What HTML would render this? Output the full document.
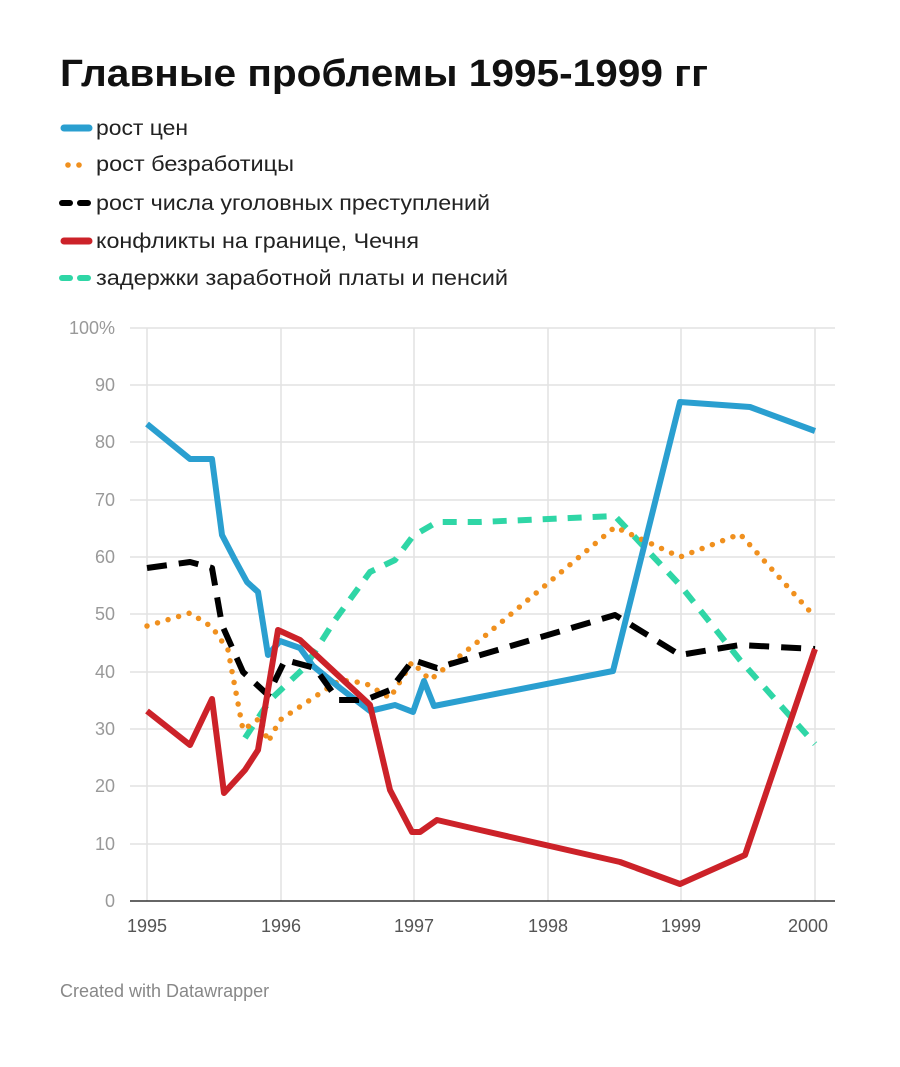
<!DOCTYPE html>
<html><head><meta charset="utf-8"><style>
body{margin:0;background:#fff;font-family:"Liberation Sans",sans-serif;}
</style></head><body>
<svg width="900" height="1067" xmlns="http://www.w3.org/2000/svg" style="display:block">
<text x="60" y="86" font-family="Liberation Sans, sans-serif" font-weight="bold" font-size="38" fill="#111" textLength="648" lengthAdjust="spacingAndGlyphs">Главные проблемы 1995-1999 гг</text>
<g font-family="Liberation Sans, sans-serif" font-size="21" fill="#222">
<line x1="64" y1="128" x2="89" y2="128" stroke="#2a9fd0" stroke-width="7" stroke-linecap="round"/>
<text x="96" y="135" textLength="92" lengthAdjust="spacingAndGlyphs">рост цен</text>
<circle cx="68" cy="165" r="2.8" fill="#f0901e"/><circle cx="79" cy="165" r="2.8" fill="#f0901e"/>
<text x="96" y="171" textLength="198" lengthAdjust="spacingAndGlyphs">рост безработицы</text>
<line x1="62" y1="203" x2="70" y2="203" stroke="#000" stroke-width="6" stroke-linecap="round"/><line x1="80" y1="203" x2="88" y2="203" stroke="#000" stroke-width="6" stroke-linecap="round"/>
<text x="96" y="210" textLength="394" lengthAdjust="spacingAndGlyphs">рост числа уголовных преступлений</text>
<line x1="64" y1="241" x2="89" y2="241" stroke="#cc2229" stroke-width="7" stroke-linecap="round"/>
<text x="96" y="248" textLength="323" lengthAdjust="spacingAndGlyphs">конфликты на границе, Чечня</text>
<line x1="62" y1="278" x2="70" y2="278" stroke="#2fd6a6" stroke-width="6" stroke-linecap="round"/><line x1="80" y1="278" x2="88" y2="278" stroke="#2fd6a6" stroke-width="6" stroke-linecap="round"/>
<text x="96" y="285" textLength="412" lengthAdjust="spacingAndGlyphs">задержки заработной платы и пенсий</text>
</g>
<g stroke="#e2e2e2" stroke-width="1.5">
<line x1="130" x2="835" y1="328" y2="328"/><line x1="130" x2="835" y1="385" y2="385"/><line x1="130" x2="835" y1="442" y2="442"/><line x1="130" x2="835" y1="500" y2="500"/><line x1="130" x2="835" y1="557" y2="557"/><line x1="130" x2="835" y1="614" y2="614"/><line x1="130" x2="835" y1="672" y2="672"/><line x1="130" x2="835" y1="729" y2="729"/><line x1="130" x2="835" y1="786" y2="786"/><line x1="130" x2="835" y1="844" y2="844"/>
<line x1="147" x2="147" y1="328" y2="901"/><line x1="281" x2="281" y1="328" y2="901"/><line x1="414" x2="414" y1="328" y2="901"/><line x1="548" x2="548" y1="328" y2="901"/><line x1="681" x2="681" y1="328" y2="901"/><line x1="815" x2="815" y1="328" y2="901"/>
</g>
<line x1="130" x2="835" y1="901" y2="901" stroke="#333" stroke-width="1.5"/>
<g font-family="Liberation Sans, sans-serif" font-size="18" fill="#999" text-anchor="end">
<text x="115" y="334">100%</text><text x="115" y="391">90</text><text x="115" y="448">80</text><text x="115" y="506">70</text><text x="115" y="563">60</text><text x="115" y="620">50</text><text x="115" y="678">40</text><text x="115" y="735">30</text><text x="115" y="792">20</text><text x="115" y="850">10</text><text x="115" y="907">0</text>
</g>
<g font-family="Liberation Sans, sans-serif" font-size="18" fill="#555" text-anchor="middle">
<text x="147" y="932">1995</text><text x="281" y="932">1996</text><text x="414" y="932">1997</text><text x="548" y="932">1998</text><text x="681" y="932">1999</text><text x="808" y="932">2000</text>
</g>
<g fill="none" stroke-linejoin="round">
<polyline stroke="#2fd6a6" stroke-width="6" stroke-dasharray="14,11" points="245,738 270,700 305,667 335,620 370,572 395,560 413,536 437,522 480,522 615,516 680,585 740,660 815,744"/>
<polyline stroke="#f0901e" stroke-width="5.5" stroke-dasharray="0,11" stroke-linecap="round" points="147,626 190,613 212,627 228,650 243,730 260,718 268,742 280,720 340,680 365,683 390,698 412,662 430,680 480,640 615,527 680,557 740,534 815,617"/>
<polyline stroke="#2a9fd0" stroke-width="6" points="147,424 190,459 212,459 222,535 235,560 247,582 258,592 268,655 280,641 300,648 313,666 340,688 370,711 395,705 413,712 424,681 434,706 613,671 680,402 750,407 815,431"/>
<polyline stroke="#000" stroke-width="6" stroke-dasharray="20,12" points="147,568 190,562 212,568 222,625 243,672 268,695 285,660 315,668 338,700 365,700 390,690 413,660 437,668 615,615 680,655 740,645 815,649"/>
<polyline stroke="#cc2229" stroke-width="6" points="147,711 190,745 212,699 224,793 245,770 258,750 278,630 300,640 370,705 390,790 412,832 420,832 437,820 480,830 620,862 680,884 745,855 815,649"/>
</g>
<text x="60" y="997" font-family="Liberation Sans, sans-serif" font-size="18" fill="#888">Created with Datawrapper</text>
</svg>
</body></html>
